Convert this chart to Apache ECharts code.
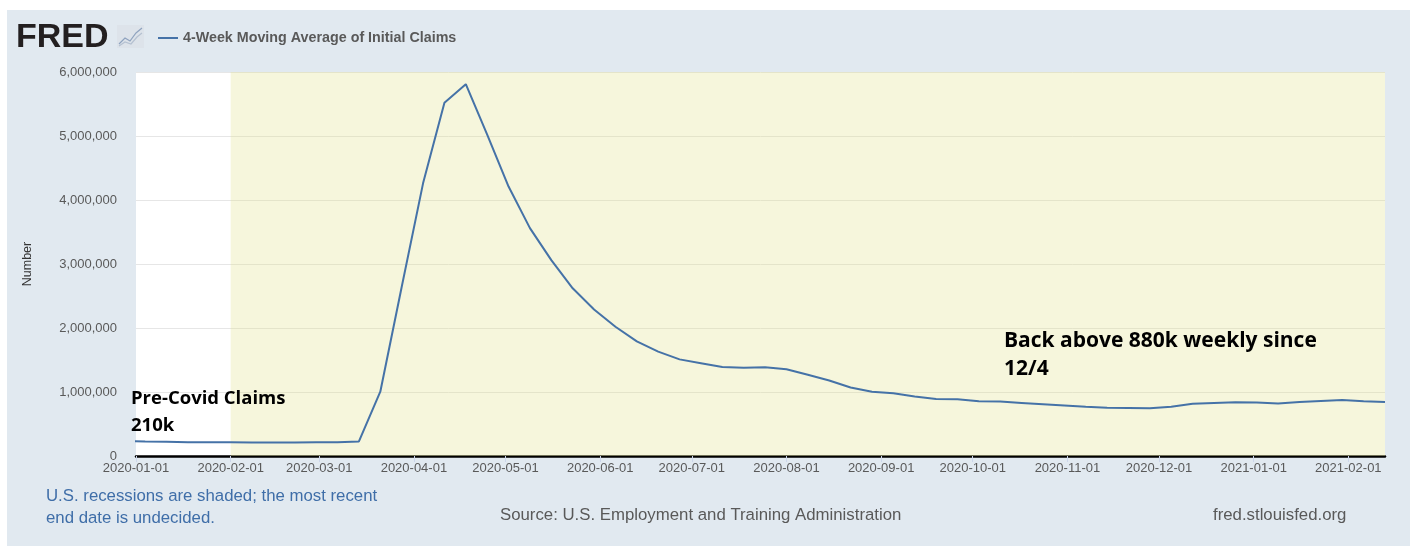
<!DOCTYPE html>
<html><head><meta charset="utf-8">
<script src="https://cdn.jsdelivr.net/npm/echarts@6/dist/echarts.min.js"></script>
<style>html,body{margin:0;padding:0;background:#fff}#c{width:1424px;height:556px}</style>
</head><body><div id="c"></div>
<script>
const dates = ['2019-12-28','2020-01-04','2020-01-11','2020-01-18','2020-01-25','2020-02-01','2020-02-08','2020-02-15','2020-02-22','2020-02-29',
'2020-03-07','2020-03-14','2020-03-21','2020-03-28','2020-04-04','2020-04-11','2020-04-18','2020-04-25','2020-05-02','2020-05-09',
'2020-05-16','2020-05-23','2020-05-30','2020-06-06','2020-06-13','2020-06-20','2020-06-27','2020-07-04','2020-07-11','2020-07-18',
'2020-07-25','2020-08-01','2020-08-08','2020-08-15','2020-08-22','2020-08-29','2020-09-05','2020-09-12','2020-09-19','2020-09-26',
'2020-10-03','2020-10-10','2020-10-17','2020-10-24','2020-10-31','2020-11-07','2020-11-14','2020-11-21','2020-11-28','2020-12-05',
'2020-12-12','2020-12-19','2020-12-26','2021-01-02','2021-01-09','2021-01-16','2021-01-23','2021-01-30','2021-02-06','2021-02-13'];
const claims4wk = [233000,226000,224000,216000,214000,213000,212000,211000,209000,213000,
215000,228000,1005000,2640000,4260000,5520000,5810000,5020000,4210000,3560000,
3060000,2620000,2290000,2020000,1790000,1630000,1510000,1450000,1390000,1380000,
1385000,1355000,1270000,1180000,1070000,1005000,980000,930000,890000,885000,
855000,850000,830000,810000,790000,770000,755000,750000,745000,770000,
815000,830000,840000,835000,820000,845000,860000,875000,855000,845000];
const xTickLabels = ['2020-01-01','2020-02-01','2020-03-01','2020-04-01','2020-05-01','2020-06-01','2020-07-01',
'2020-08-01','2020-09-01','2020-10-01','2020-11-01','2020-12-01','2021-01-01','2021-02-01'];
const recessionStart = '2020-02-01';
const xMin = '2020-01-01';
const xMax = '2021-02-13';
const yMin = 0, yMax = 6000000, yStep = 1000000;
const seriesName = '4-Week Moving Average of Initial Claims';

function ts(s) { const p = s.split('-').map(Number); return Date.UTC(p[0], p[1] - 1, p[2]); }
function fmt(v) { const d = new Date(v); const z = n => (n < 10 ? '0' : '') + n; return d.getUTCFullYear() + '-' + z(d.getUTCMonth() + 1) + '-' + z(d.getUTCDate()); }

const chart = echarts.init(document.getElementById('c'), null, {renderer: 'canvas'});
const tickVals = xTickLabels.map(ts);
const FONT = 'Liberation Sans, Arial, sans-serif';
const option = {
  backgroundColor: '#ffffff',
  animation: false,
  textStyle: {fontFamily: FONT},
  legend: {
    left: 153, top: 26,
    icon: 'rect', itemWidth: 20, itemHeight: 2, itemGap: 6,
    textStyle: {fontSize: 14.3, fontWeight: 'bold', color: '#595959', fontFamily: FONT},
    data: [seriesName]
  },
  grid: {left: 136, right: 39, top: 72, bottom: 100, show: true, backgroundColor: '#ffffff', borderWidth: 0},
  xAxis: {
    type: 'value', min: ts(xMin), max: ts(xMax),
    axisLine: {lineStyle: {color: '#000000', width: 2.5}},
    axisTick: {show: true, customValues: tickVals, length: 6, lineStyle: {color: '#ccd6eb'}},
    axisLabel: {customValues: tickVals, color: '#595959', fontSize: 13, margin: 6, fontFamily: FONT,
      showMinLabel: true, showMaxLabel: true, formatter: v => fmt(v)},
    splitLine: {show: false}
  },
  yAxis: {
    type: 'value', min: yMin, max: yMax, interval: yStep,
    name: 'Number', nameLocation: 'middle', nameRotate: 90, nameGap: 102,
    nameTextStyle: {color: '#333333', fontSize: 12.5, fontFamily: FONT},
    axisLine: {show: false}, axisTick: {show: false},
    axisLabel: {color: '#595959', fontSize: 13, margin: 19, fontFamily: FONT,
      formatter: v => Number(v).toLocaleString('en-US')},
    splitLine: {lineStyle: {color: '#e6e6e6', width: 1}}
  },
  series: [{
    name: seriesName, type: 'line', showSymbol: false, symbol: 'none',
    data: dates.map((d, i) => [ts(d), claims4wk[i]]),
    lineStyle: {color: '#4572a7', width: 2},
    itemStyle: {color: '#4572a7'},
    clip: true,
    markArea: {
      silent: true,
      itemStyle: {color: 'rgba(225,225,140,0.3)'},
      data: [[{xAxis: ts(recessionStart)}, {xAxis: ts(xMax)}]]
    }
  }],
  graphic: [
    {type: 'rect', z: -10, silent: true, shape: {x: 7, y: 10, width: 1403, height: 536}, style: {fill: '#e1e9f0'}},
    {type: 'text', left: 16, top: 21, style: {text: 'FRED', font: 'bold 34px ' + FONT, fill: '#231f20'}},
    {type: 'rect', shape: {x: 117, y: 25, width: 27, height: 23}, style: {fill: '#dde3ea'}},
    {type: 'polyline', shape: {points: [[119,44],[125,38],[130,41],[136,33],[142,28]]}, style: {stroke: '#8fa3bf', lineWidth: 1.2, fill: null}},
    {type: 'polyline', shape: {points: [[119,46],[125,42],[131,44],[137,37],[142,33]]}, style: {stroke: '#b5c1d1', lineWidth: 1.2, fill: null}},
    {type: 'text', left: 131, top: 385, z: 10, style: {text: 'Pre-Covid Claims\n210k', font: 'bold 18.5px Open Sans, sans-serif', lineHeight: 27, fill: '#000000'}},
    {type: 'text', left: 1004, top: 327, z: 10, style: {text: 'Back above 880k weekly since\n12/4', font: 'bold 21px Open Sans, sans-serif', lineHeight: 28, fill: '#000000'}},
    {type: 'text', left: 46, top: 485, style: {text: 'U.S. recessions are shaded; the most recent\nend date is undecided.', font: '16.8px ' + FONT, lineHeight: 22, fill: '#3f6ea8'}},
    {type: 'text', left: 500, top: 507, style: {text: 'Source: U.S. Employment and Training Administration', font: '16.8px ' + FONT, fill: '#595959'}},
    {type: 'text', left: 1213, top: 507, style: {text: 'fred.stlouisfed.org', font: '16.8px ' + FONT, fill: '#595959'}}
  ]
};
chart.setOption(option);
</script></body></html>
